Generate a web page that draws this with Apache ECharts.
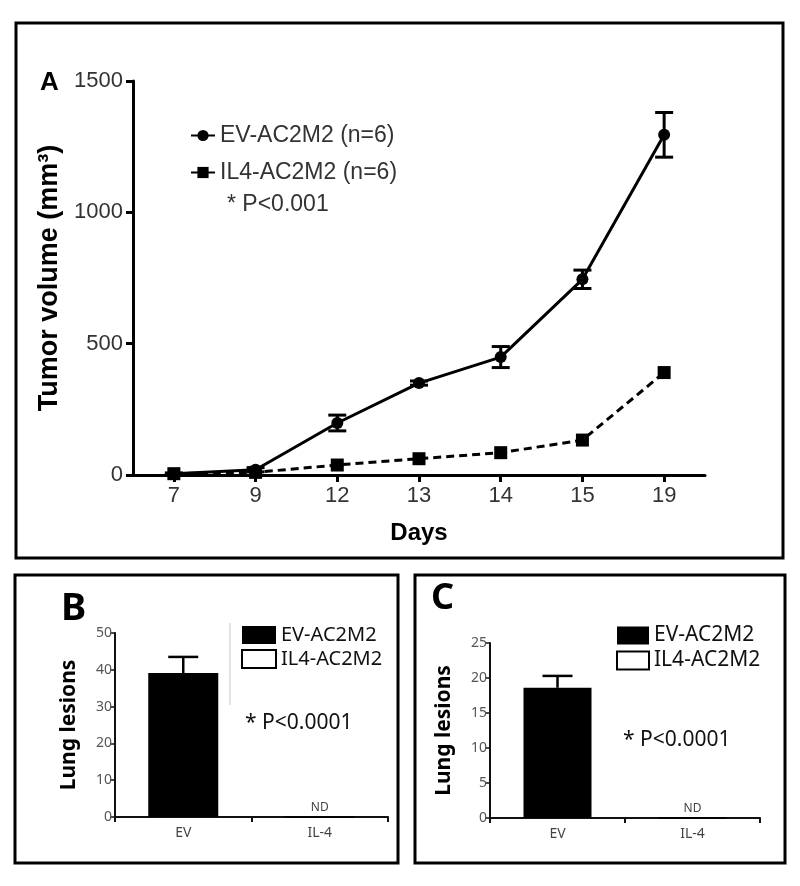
<!DOCTYPE html>
<html><head><meta charset="utf-8">
<script src="https://cdn.jsdelivr.net/npm/echarts@6/dist/echarts.min.js"></script>
<style>html,body{margin:0;padding:0;background:#fff}#c{width:800px;height:886px}</style>
</head><body><div id="c"></div>
<script>
// ---- Panel A data ----
const days = ['7', '9', '12', '13', '14', '15', '19'];
const evName = 'EV-AC2M2 (n=6)';
const il4Name = 'IL4-AC2M2 (n=6)';
const evVolume = [5, 20, 198, 350, 449, 745, 1295];
const evVolumeErr = [3, 8, 30, 8, 40, 35, 85];
const il4Volume = [5, 10, 38, 62, 85, 133, 390];
const yMaxA = 1500, yStepA = 500;

// ---- Panels B / C data ----
const groups = ['EV', 'IL-4'];
const barNames = ['EV-AC2M2', 'IL4-AC2M2'];
const lesionsB_EV = [39.1, null];
const lesionsB_IL4 = [null, 0];
const lesionsB_Err = [4.4, null];
const yMaxB = 50, yStepB = 10;
const lesionsC_EV = [18.6, null];
const lesionsC_IL4 = [null, 0];
const lesionsC_Err = [1.7, null];
const yMaxC = 25, yStepC = 5;

function errData(means, errs) {
  const out = [];
  means.forEach((m, i) => { if (m != null && errs[i] != null) out.push([i, m, errs[i]]); });
  return out;
}
function errRender(capW, lw, upOnly) {
  return function (params, api) {
    const x = api.value(0), m = api.value(1), e = api.value(2);
    const hi = api.coord([x, m + e]);
    const lo = api.coord([x, upOnly ? m : m - e]);
    const st = { stroke: '#000', lineWidth: lw };
    const ch = [
      { type: 'line', shape: { x1: hi[0], y1: hi[1], x2: lo[0], y2: lo[1] }, style: st },
      { type: 'line', shape: { x1: hi[0] - capW / 2, y1: hi[1], x2: hi[0] + capW / 2, y2: hi[1] }, style: st }
    ];
    if (!upOnly) ch.push({ type: 'line', shape: { x1: lo[0] - capW / 2, y1: lo[1], x2: lo[0] + capW / 2, y2: lo[1] }, style: st });
    return { type: 'group', children: ch };
  };
}

const chart = echarts.init(document.getElementById('c'), null, { renderer: 'canvas' });
const sansA = "'Liberation Sans', Arial, Helvetica, sans-serif";
const sansB = "'Noto Sans', sans-serif";
const plain = (v) => String(v);

const smallYAxis = (idx, max, step) => ({
  type: 'value', gridIndex: idx, min: 0, max: max, interval: step,
  axisLine: { show: true, lineStyle: { color: '#111', width: 2 } },
  axisTick: { show: true, length: 5, lineStyle: { color: '#111', width: 1.5 } },
  axisLabel: { fontSize: 14, color: '#555', margin: 3, fontFamily: sansB, formatter: plain },
  splitLine: { show: false },
  name: 'Lung lesions', nameLocation: 'middle', nameGap: 35,
  nameTextStyle: { fontSize: 21, fontWeight: 'bold', color: '#000', fontFamily: sansB }
});
const smallXAxis = (idx) => ({
  type: 'category', gridIndex: idx, data: groups, boundaryGap: true,
  axisLine: { show: true, lineStyle: { color: '#111', width: 2 } },
  axisTick: { show: true, length: 5, lineStyle: { color: '#111', width: 2 } },
  axisLabel: { fontSize: 14, color: '#444', margin: 9, fontFamily: sansB }
});

chart.setOption({
  backgroundColor: '#fff',
  animation: false,
  grid: [
    { left: 133, right: 95, top: 81, bottom: 411 },
    { left: 115, right: 412, top: 633, bottom: 69 },
    { left: 490, right: 40, top: 643, bottom: 68 }
  ],
  xAxis: [
    {
      type: 'category', gridIndex: 0, data: days, boundaryGap: true,
      axisLine: { show: true, lineStyle: { color: '#000', width: 3 } },
      axisTick: { show: true, alignWithLabel: true, length: 7, lineStyle: { color: '#000', width: 3 } },
      axisLabel: { fontSize: 22, color: '#333', margin: 10, fontFamily: sansA },
      name: 'Days', nameLocation: 'middle', nameGap: 46,
      nameTextStyle: { fontSize: 24, fontWeight: 'bold', color: '#000', fontFamily: sansA }
    },
    smallXAxis(1), smallXAxis(2)
  ],
  yAxis: [
    {
      type: 'value', gridIndex: 0, min: 0, max: yMaxA, interval: yStepA,
      axisLine: { show: true, lineStyle: { color: '#000', width: 3 } },
      axisTick: { show: true, length: 7, lineStyle: { color: '#000', width: 3 } },
      axisLabel: { fontSize: 22, color: '#333', margin: 10, fontFamily: sansA, formatter: plain },
      splitLine: { show: false },
      name: 'Tumor volume (mm³)', nameLocation: 'middle', nameGap: 68,
      nameTextStyle: { fontSize: 27, fontWeight: 'bold', color: '#000', fontFamily: sansA }
    },
    smallYAxis(1, yMaxB, yStepB), smallYAxis(2, yMaxC, yStepC)
  ],
  legend: [
    {
      left: 190, top: 124, orient: 'vertical', selectedMode: false, padding: 0,
      data: [{ name: evName }, { name: il4Name, lineStyle: { type: 'solid' } }],
      itemWidth: 24, itemHeight: 14, itemGap: 14,
      textStyle: { fontSize: 23, color: '#333', fontFamily: sansA, lineHeight: 21 }
    },
    {
      left: 241, top: 625, orient: 'vertical', selectedMode: false, data: barNames, padding: 0,
      icon: 'rect', itemWidth: 34, itemHeight: 18, itemGap: 4,
      textStyle: { fontSize: 20, color: '#111', fontFamily: sansB, lineHeight: 18 }
    },
    {
      left: 616, top: 625, orient: 'vertical', selectedMode: false, data: barNames, padding: 0,
      icon: 'rect', itemWidth: 32, itemHeight: 18, itemGap: 4,
      textStyle: { fontSize: 21, color: '#111', fontFamily: sansB, lineHeight: 18 }
    }
  ],
  series: [
    {
      type: 'line', name: il4Name, xAxisIndex: 0, yAxisIndex: 0, data: il4Volume,
      symbol: 'rect', symbolSize: 13, itemStyle: { color: '#000' },
      lineStyle: { color: '#000', width: 3, type: [8, 5] }, z: 3
    },
    {
      type: 'line', name: evName, xAxisIndex: 0, yAxisIndex: 0, data: evVolume,
      symbol: 'circle', symbolSize: 12, itemStyle: { color: '#000' },
      lineStyle: { color: '#000', width: 3 }, z: 4
    },
    {
      type: 'custom', name: 'EV error', xAxisIndex: 0, yAxisIndex: 0,
      data: errData(evVolume, evVolumeErr), renderItem: errRender(18, 3, false), z: 5
    },
    // Panel B
    {
      type: 'bar', name: barNames[0], xAxisIndex: 1, yAxisIndex: 1, data: lesionsB_EV,
      barWidth: 70, barGap: '-100%', itemStyle: { color: '#000' }
    },
    {
      type: 'bar', name: barNames[1], xAxisIndex: 1, yAxisIndex: 1, data: lesionsB_IL4,
      barWidth: 70, barGap: '-100%', itemStyle: { color: '#fff', borderColor: '#000', borderWidth: 1.5 },
      label: { show: true, position: 'top', distance: 3, formatter: 'ND', fontSize: 12, color: '#444', fontFamily: sansB }
    },
    {
      type: 'custom', name: 'B error', xAxisIndex: 1, yAxisIndex: 1,
      data: errData(lesionsB_EV, lesionsB_Err), renderItem: errRender(30, 2.5, true), z: 5
    },
    // Panel C
    {
      type: 'bar', name: barNames[0], xAxisIndex: 2, yAxisIndex: 2, data: lesionsC_EV,
      barWidth: 68, barGap: '-100%', itemStyle: { color: '#000' }
    },
    {
      type: 'bar', name: barNames[1], xAxisIndex: 2, yAxisIndex: 2, data: lesionsC_IL4,
      barWidth: 68, barGap: '-100%', itemStyle: { color: '#fff', borderColor: '#000', borderWidth: 1.5 },
      label: { show: true, position: 'top', distance: 3, formatter: 'ND', fontSize: 12, color: '#444', fontFamily: sansB }
    },
    {
      type: 'custom', name: 'C error', xAxisIndex: 2, yAxisIndex: 2,
      data: errData(lesionsC_EV, lesionsC_Err), renderItem: errRender(30, 2.5, true), z: 5
    }
  ],
  graphic: [
    { type: 'rect', shape: { x: 16, y: 23, width: 767, height: 535 }, style: { fill: 'none', stroke: '#000', lineWidth: 3 }, silent: true },
    { type: 'rect', shape: { x: 15, y: 575, width: 383, height: 288 }, style: { fill: 'none', stroke: '#000', lineWidth: 3 }, silent: true },
    { type: 'rect', shape: { x: 415, y: 575, width: 370, height: 288 }, style: { fill: 'none', stroke: '#000', lineWidth: 3 }, silent: true },
    { type: 'line', shape: { x1: 230, y1: 623, x2: 230, y2: 705 }, style: { stroke: '#c8c8c8', lineWidth: 1 }, silent: true },
    { type: 'text', x: 40, y: 83, style: { text: 'A', font: 'bold 26px ' + sansA, fill: '#000', verticalAlign: 'middle' } },
    { type: 'text', x: 61, y: 609, style: { text: 'B', font: 'bold 38px ' + sansB, fill: '#000', verticalAlign: 'middle' } },
    { type: 'text', x: 431, y: 599, style: { text: 'C', font: 'bold 36px ' + sansB, fill: '#000', verticalAlign: 'middle' } },
    { type: 'text', x: 227, y: 205, style: { text: '* P<0.001', font: '23px ' + sansA, fill: '#333', verticalAlign: 'middle' } },
    { type: 'text', x: 245, y: 723, style: { text: '* P<0.0001', font: '21px ' + sansB, fill: '#111', verticalAlign: 'middle' } },
    { type: 'text', x: 623, y: 740, style: { text: '* P<0.0001', font: '21px ' + sansB, fill: '#111', verticalAlign: 'middle' } }
  ]
});
</script>
</body></html>
